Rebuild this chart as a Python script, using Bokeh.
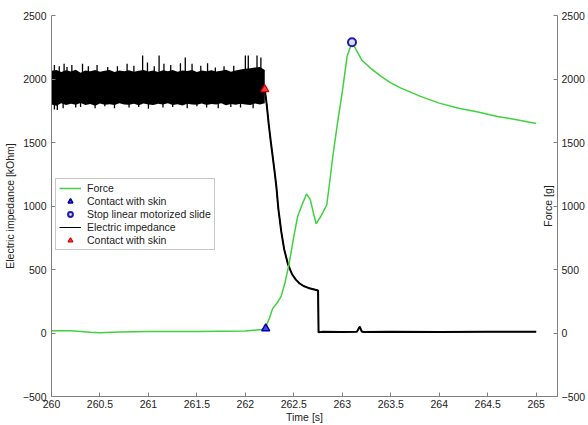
from bokeh.plotting import figure
from bokeh.models import Range1d, LinearAxis, Legend, LegendItem, Label, FixedTicker
from bokeh.embed import file_html
from bokeh.resources import INLINE
import math

# ---------------- data ----------------
# Force [g]
force_t = [260.00, 260.20, 260.40, 260.50, 260.70, 261.00, 261.50, 262.00, 262.20,
           262.25, 262.28, 262.33, 262.37, 262.41, 262.45, 262.50, 262.54, 262.58,
           262.63, 262.67, 262.70, 262.73, 262.78, 262.84, 262.88, 262.90, 262.95,
           263.00, 263.05, 263.10, 263.15, 263.20, 263.30, 263.40, 263.50, 263.60,
           263.80, 264.00, 264.20, 264.40, 264.60, 264.80, 265.00]
force_v = [18, 18, 5, 2, 8, 12, 12, 15, 30,
           120, 190, 240, 290, 400, 540, 760, 920, 1000,
           1095, 1050, 950, 860, 920, 1010, 1250, 1380, 1650,
           1900, 2180, 2290, 2220, 2150, 2080, 2020, 1970, 1930,
           1865, 1810, 1770, 1740, 1705, 1680, 1650]

# Electric impedance [kOhm]: noisy band before contact
band_t = [260.00, 260.05, 260.10, 260.15, 260.20, 260.25, 260.30, 260.35, 260.40,
          260.45, 260.50, 260.55, 260.60, 260.65, 260.70, 260.75, 260.80, 260.85,
          260.90, 260.95, 261.00, 261.05, 261.10, 261.15, 261.20, 261.25, 261.30,
          261.35, 261.40, 261.45, 261.50, 261.55, 261.60, 261.65, 261.70, 261.75,
          261.80, 261.85, 261.90, 261.95, 262.00, 262.05, 262.10, 262.15, 262.20]
band_hi = [2065, 2070, 2055, 2068, 2060, 2072, 2050, 2066, 2062, 2070, 2058, 2064,
           2070, 2055, 2066, 2061, 2069, 2057, 2065, 2070, 2060, 2066, 2055, 2068,
           2062, 2071, 2058, 2066, 2063, 2070, 2056, 2067, 2061, 2069, 2060, 2065,
           2072, 2058, 2066, 2075, 2080, 2085, 2090, 2095, 2070]
band_lo = [1800, 1790, 1810, 1795, 1805, 1798, 1812, 1796, 1803, 1790, 1808, 1798,
           1802, 1795, 1810, 1800, 1797, 1806, 1793, 1808, 1800, 1795, 1805, 1799,
           1810, 1796, 1802, 1792, 1806, 1800, 1797, 1808, 1795, 1803, 1799, 1810,
           1794, 1804, 1798, 1806, 1800, 1795, 1808, 1800, 1810]
# spikes of the noisy band
spike_up_t = [260.03, 260.08, 260.13, 260.16, 260.21, 260.32, 260.38, 260.47, 260.58,
              260.68, 260.78, 260.85, 260.94, 260.99, 261.06, 261.11, 261.16, 261.23,
              261.33, 261.38, 261.45, 261.54, 261.61, 261.69, 261.78, 261.88, 262.00,
              262.03, 262.12, 262.16]
spike_up_v = [2110, 2100, 2120, 2095, 2110, 2120, 2100, 2110, 2095,
              2100, 2120, 2105, 2185, 2130, 2100, 2185, 2120, 2110,
              2125, 2170, 2120, 2105, 2125, 2090, 2100, 2105, 2185,
              2185, 2185, 2170]
spike_dn_t = [260.03, 260.06, 260.12, 260.25, 260.30, 260.45, 260.55, 260.65, 260.80,
              260.90, 261.00, 261.15, 261.25, 261.40, 261.50, 261.60, 261.72, 261.85,
              261.95, 262.08]
spike_dn_v = [1760, 1755, 1770, 1775, 1780, 1770, 1785, 1770, 1775,
              1780, 1765, 1775, 1780, 1770, 1785, 1775, 1770, 1780,
              1775, 1770]
# impedance after contact
imp_t = [262.20, 262.22, 262.24, 262.26, 262.28, 262.30, 262.32, 262.34, 262.37,
         262.40, 262.44, 262.48, 262.52, 262.56, 262.60, 262.65, 262.70, 262.75,
         262.755, 262.80, 263.00, 263.15, 263.18, 263.20, 263.22, 263.50, 264.00,
         264.50, 265.00]
imp_v = [1920, 1800, 1650, 1520, 1400, 1280, 1150, 980, 800,
         660, 540, 465, 420, 390, 370, 355, 345, 335,
         5, 10, 8, 10, 50, 12, 8, 10, 8,
         10, 10]

# events
contact_force_t = [262.21]
contact_force_v = [35]
stop_t = [263.10]
stop_v = [2290]
contact_imp_t = [262.20]
contact_imp_v = [1919]

x_ticks = [260, 260.5, 261, 261.5, 262, 262.5, 263, 263.5, 264, 264.5, 265]
y_ticks = [-500, 0, 500, 1000, 1500, 2000, 2500]

# ---------------- figure ----------------
FONT = "Liberation Sans"
GREEN = "#3fd23f"
AX = "#808080"
TXT = "#222222"

p = figure(width=588, height=425, output_backend="svg", toolbar_location=None,
           x_range=Range1d(260, 265.22), y_range=Range1d(-500, 2500),
           min_border_left=51, min_border_right=31, min_border_top=15,
           min_border_bottom=28, background_fill_color="white",
           border_fill_color="white")
p.extra_y_ranges = {"force": Range1d(-500, 2500)}
p.outline_line_color = None
p.xgrid.visible = False
p.ygrid.visible = False

# impedance band
p.varea(x=band_t, y1=band_lo, y2=band_hi, fill_color="black")
p.segment(x0=spike_up_t, y0=[2040] * len(spike_up_t), x1=spike_up_t, y1=spike_up_v,
          line_color="black", line_width=1.3)
p.segment(x0=spike_dn_t, y0=[1820] * len(spike_dn_t), x1=spike_dn_t, y1=spike_dn_v,
          line_color="black", line_width=1.3)
# thin line (used as the legend symbol) under a thicker one
imp_legend = p.line(imp_t, imp_v, line_color="black", line_width=1)
p.line(imp_t, imp_v, line_color="black", line_width=2)

# force
force_line = p.line(force_t, force_v, line_color=GREEN, line_width=1.5, y_range_name="force")
contact_f = p.scatter(contact_force_t, contact_force_v, marker="triangle", size=8,
                      line_color="#0000b0", fill_color="#4a4ae0", line_width=1.5,
                      y_range_name="force")
stop_r = p.scatter(stop_t, stop_v, marker="circle", size=8, line_color="#1c1ca8",
                   fill_color="#dcdcff", line_width=2, y_range_name="force")
contact_i = p.scatter(contact_imp_t, contact_imp_v, marker="triangle", size=8,
                      line_color="#e00000", fill_color="#f04040", line_width=1.2)

# axes styling
def style_axis(ax):
    ax.axis_line_color = AX
    ax.major_tick_line_color = AX
    ax.minor_tick_line_color = None
    ax.major_tick_in = 4
    ax.major_tick_out = 0
    ax.major_label_text_font = FONT
    ax.major_label_text_font_size = "10.5px"
    ax.major_label_text_color = TXT
    ax.axis_label_text_font = FONT
    ax.axis_label_text_font_size = "10.5px"
    ax.axis_label_text_font_style = "normal"
    ax.axis_label_text_color = TXT

xa = p.xaxis[0]
style_axis(xa)
xa.ticker = FixedTicker(ticks=x_ticks)
xa.axis_label = "Time [s]"
xa.major_label_standoff = 3
xa.axis_label_standoff = 0

ya = p.yaxis[0]
style_axis(ya)
ya.ticker = FixedTicker(ticks=y_ticks)
ya.axis_label = "Electric impedance [kOhm]"
ya.major_label_standoff = 5
ya.axis_label_standoff = 4

ra = LinearAxis(y_range_name="force")
style_axis(ra)
ra.ticker = FixedTicker(ticks=y_ticks)
ra.major_label_standoff = 4
p.add_layout(ra, "right")

p.add_layout(Label(x=265.12, y=1000, text="Force [g]", angle=math.pi / 2,
                   text_align="center", text_baseline="middle", text_font=FONT,
                   text_font_size="10.5px", text_color=TXT))

legend = Legend(items=[
    LegendItem(label="Force", renderers=[force_line]),
    LegendItem(label="Contact with skin", renderers=[contact_f]),
    LegendItem(label="Stop linear motorized slide", renderers=[stop_r]),
    LegendItem(label="Electric impedance", renderers=[imp_legend]),
    LegendItem(label="Contact with skin", renderers=[contact_i]),
], location=(4, 146))
legend.label_text_font = FONT
legend.label_text_font_size = "10.5px"
legend.label_text_color = TXT
legend.label_height = 12
legend.glyph_height = 12
legend.glyph_width = 22
legend.label_standoff = 6
legend.spacing = 1
legend.padding = 3
legend.margin = 0
legend.border_line_color = "#909090"
legend.border_line_width = 1
legend.background_fill_color = "white"
legend.background_fill_alpha = 1
p.add_layout(legend, "center")

open("out.html", "w").write(file_html(p, INLINE))
